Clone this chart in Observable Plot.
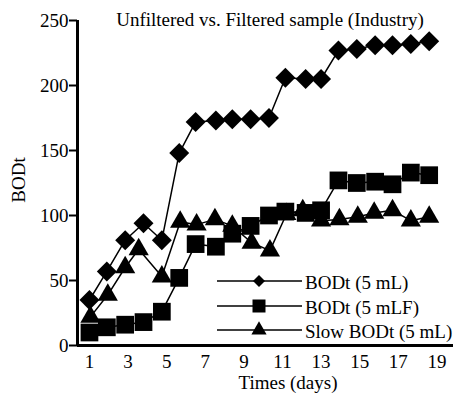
<!DOCTYPE html>
<html><head><meta charset="utf-8">
<script src="https://cdn.jsdelivr.net/npm/d3@7"></script>
<script src="https://cdn.jsdelivr.net/npm/@observablehq/plot@0.6"></script>
<style>
body{margin:0;background:#fff;}
#wrap{width:453px;height:397px;}
</style></head><body>
<div id="wrap"></div>
<script>
const title = "Unfiltered vs. Filtered sample (Industry)";
const xLabel = "Times (days)";
const yLabel = "BODt";
const seriesNames = ["BODt (5 mL)", "BODt (5 mLF)", "Slow BODt (5 mL)"];
const times = [1, 1.9, 2.85, 3.8, 4.75, 5.65, 6.5, 7.55, 8.4, 9.35, 10.3, 11.15, 12.2, 13, 13.9, 14.85, 15.8, 16.7, 17.65, 18.6];
const timesSlow = [1.05, 1.95, 2.85, 3.55, 4.75, 5.7, 6.55, 7.5, 8.4, 9.4, 10.35, 11.2, 12.05, 13, 13.95, 14.9, 15.75, 16.7, 17.65, 18.6];
const bod5 = [35, 57, 81, 94, 81, 148, 172, 173, 174, 174, 175, 206, 205, 205, 227, 228, 231, 231, 232, 234];
const bod5F = [10, 14, 16, 18, 26, 52, 78, 76, 86, 92, 100, 103, 102, 104, 127, 125, 126, 124, 133, 131];
const slowBod5 = [22, 39, 60, 74, 53, 95, 93, 97, 92, 79, 73, 101, 104, 96, 97, 99, 102, 104, 96, 99];
const xTicks = [1, 3, 5, 7, 9, 11, 13, 15, 17, 19];
const yTicks = [0, 50, 100, 150, 200, 250];
const xDomain = [0.38, 19.86];
const yDomain = [0, 250];

const font = "Liberation Serif";
const dA = times.map((t, i) => ({t, v: bod5[i]}));
const dB = times.map((t, i) => ({t, v: bod5F[i]}));
const dC = timesSlow.map((t, i) => ({t, v: slowBod5[i]}));

const chart = Plot.plot({
  width: 453, height: 397,
  marginLeft: 77, marginRight: 0, marginTop: 20, marginBottom: 52,
  style: {fontFamily: font, fontSize: "19px", background: "#fff", color: "#000", overflow: "visible"},
  x: {domain: xDomain},
  y: {domain: yDomain},
  marks: [
    Plot.axisY({ticks: yTicks, tickSize: 8, tickPadding: 1, strokeWidth: 2, label: null, fontSize: 19}),
    Plot.axisX({ticks: xTicks, tickSize: 0, tickPadding: 9, label: null, fontSize: 19}),
    Plot.ruleX([xDomain[0]], {stroke: "black", strokeWidth: 3}),
    Plot.ruleY([yDomain[0]], {stroke: "black", strokeWidth: 3}),
    Plot.line(dA, {x: "t", y: "v", stroke: "black", strokeWidth: 1.5}),
    Plot.line(dB, {x: "t", y: "v", stroke: "black", strokeWidth: 1.5}),
    Plot.line(dC, {x: "t", y: "v", stroke: "black", strokeWidth: 1.5}),
    Plot.dot(dA, {x: "t", y: "v", symbol: "diamond2", r: 9, fill: "black", stroke: "none"}),
    Plot.dot(dB, {x: "t", y: "v", symbol: "square", r: 10, fill: "black", stroke: "none"}),
    Plot.dot(dC, {x: "t", y: "v", symbol: "triangle", r: 7.5, fill: "black", stroke: "none"})
  ]
});
document.getElementById("wrap").appendChild(chart);

const svg = d3.select(chart);
svg.attr("font-family", font).style("font-family", font);
const g = svg.append("g").attr("fill", "black").attr("text-anchor", "start");
g.append("text").attr("x", 270).attr("y", 25.5).attr("text-anchor", "middle").attr("font-size", 19).text(title);
g.append("text").attr("x", 288).attr("y", 389).attr("text-anchor", "middle").attr("font-size", 19).text(xLabel);
g.append("text").attr("transform", "translate(25,180) rotate(-90)").attr("text-anchor", "middle").attr("font-size", 19).text(yLabel);

const legendSymbols = [d3.symbolDiamond2, d3.symbolSquare, d3.symbolTriangle];
const legendSizes = [92, 169, 100];
const rows = [281, 306, 330];
seriesNames.forEach((name, i) => {
  const y = rows[i];
  g.append("line").attr("x1", 217).attr("x2", 302).attr("y1", y).attr("y2", y).attr("stroke", "black").attr("stroke-width", 1.5);
  g.append("path").attr("transform", `translate(259,${y})`).attr("d", d3.symbol(legendSymbols[i], legendSizes[i])()).attr("fill", "black");
  g.append("text").attr("x", 305).attr("y", y + 8).attr("text-anchor", "start").attr("font-size", 19).text(name);
});
svg.selectAll("text").attr("font-family", font).style("font-family", font).style("font-variant", "normal").attr("font-variant", "normal");
</script>
</body></html>
